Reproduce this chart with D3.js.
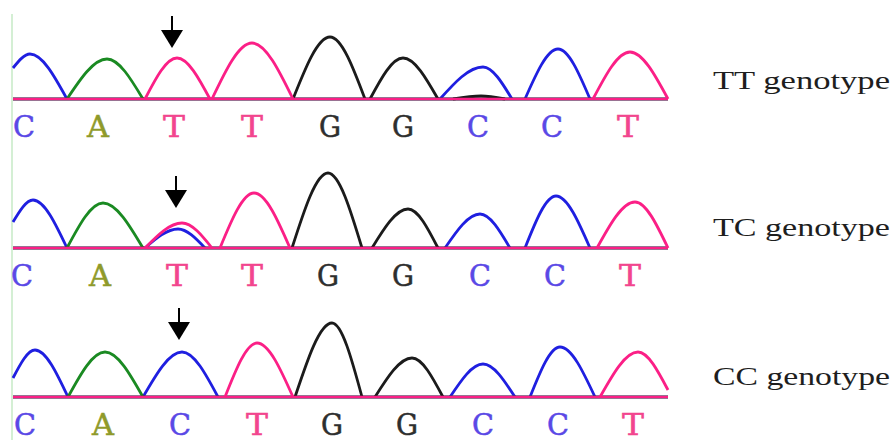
<!DOCTYPE html>
<html lang="en">
<head>
<meta charset="UTF-8">
<title>Sequencing chromatograms by genotype</title>
<script src="https://d3js.org/d3.v7.min.js"></script>
<style>
  body { margin: 0; background: #fff; }
  svg { display: block; }
</style>
</head>
<body>
<svg id="chart" width="896" height="440"></svg>
<script>
// genotype panels
const genotypes = ["TT genotype", "TC genotype", "CC genotype"];

// base calls per panel and where they sit (scan position)
const calls = [
  ["C", "A", "T", "T", "G", "G", "C", "C", "T"],
  ["C", "A", "T", "T", "G", "G", "C", "C", "T"],
  ["C", "A", "C", "T", "G", "G", "C", "C", "T"]
];
const callScan = [
  [11, 85, 161, 239, 317, 390, 465, 539, 615],
  [9, 87, 164, 239, 315, 390, 467, 542, 617],
  [12, 90, 167, 244, 319, 394, 470, 545, 620]
];

// peaks: [base, start scan, apex scan, end scan, height, start height, end height]
const peaksTT = [
  ["C", 0, 17, 54, 45, 31, 0],
  ["A", 54, 94, 130, 40, 0, 0],
  ["T", 132, 164, 197, 41, 0, 0],
  ["T", 199, 239, 280, 56, 0, 0],
  ["G", 280, 317, 352, 62, 0, 0],
  ["G", 357, 390, 425, 41, 0, 0],
  ["C", 427, 470, 499, 32, 0, 0],
  ["G", 440, 468, 492, 3, 0, 0],
  ["C", 512, 545, 577, 50, 0, 0],
  ["T", 580, 617, 655, 47, 0, 0]
];
const peaksTC = [
  ["C", 0, 20, 54, 48, 26, 0],
  ["A", 54, 90, 130, 45, 0, 0],
  ["C", 132, 165, 192, 19, 0, 0],
  ["T", 132, 169, 199, 25, 0, 0],
  ["T", 207, 241, 277, 55, 0, 0],
  ["G", 279, 315, 349, 75, 0, 0],
  ["G", 359, 395, 425, 39, 0, 0],
  ["C", 432, 467, 497, 34, 0, 0],
  ["C", 512, 543, 577, 52, 0, 0],
  ["T", 584, 622, 655, 46, 0, 0]
];
const peaksCC = [
  ["C", 0, 22, 55, 47, 19, 0],
  ["A", 55, 92, 130, 45, 0, 0],
  ["C", 130, 169, 205, 45, 0, 0],
  ["T", 212, 244, 280, 54, 0, 0],
  ["G", 282, 319, 349, 74, 0, 0],
  ["G", 362, 399, 430, 39, 0, 0],
  ["C", 437, 470, 502, 33, 0, 0],
  ["C", 517, 547, 582, 50, 0, 0],
  ["T", 587, 625, 655, 45, 0, 7]
];
const peaks = [peaksTT, peaksTC, peaksCC];

// arrows over the SNP: scan position and tip height
const arrowScan = [159, 163, 166];
const arrowTip = [51, 40, 57];

const traceColor = { C: "#1f1fe0", A: "#1a8a22", G: "#1b1b1b", T: "#fb1f86" };
const labelColor = { C: "#5a48e6", A: "#8f9a2a", G: "#2e2e2e", T: "#f2458e" };
const drawOrder = ["C", "A", "G", "T"];

const svg = d3.select("#chart");
const baselines = [99, 248, 397];

const x = d3.scaleLinear().domain([0, 655]).range([13, 668]);
const y = d3.scaleLinear().domain([0, 80]).range([0, -80]);

const peakLine = d3.line()
  .x(d => x(d[0]))
  .y(d => y(d[1]))
  .curve(d3.curveMonotoneX);

// thin green margin line on the left
svg.append("line")
  .attr("x1", 12).attr("x2", 12)
  .attr("y1", 14).attr("y2", 440)
  .attr("stroke", "#c6eac6").attr("stroke-width", 1.5);

peaks.forEach((list, i) => {
  const g = svg.append("g").attr("transform", `translate(0,${baselines[i]})`);

  drawOrder.forEach(base => {
    g.append("path")
      .attr("d", peakLine([[0, 0], [655, 0]]))
      .attr("fill", "none")
      .attr("stroke", traceColor[base])
      .attr("stroke-width", 2.6);

    g.selectAll(null)
      .data(list.filter(p => p[0] === base))
      .enter().append("path")
      .attr("d", p => peakLine([[p[1], p[5]], [p[2], p[4]], [p[3], p[6]]]))
      .attr("fill", "none")
      .attr("stroke", traceColor[base])
      .attr("stroke-width", 2.8)
      .attr("stroke-linejoin", "round");
  });

  // base calls under the trace
  g.selectAll("text.call")
    .data(calls[i])
    .enter().append("text")
    .attr("class", "call")
    .attr("x", (d, j) => x(callScan[i][j]))
    .attr("y", 38)
    .attr("text-anchor", "middle")
    .attr("font-family", "DejaVu Serif, serif")
    .attr("font-size", 29)
    .attr("textLength", 22)
    .attr("lengthAdjust", "spacingAndGlyphs")
    .attr("fill", d => labelColor[d])
    .attr("stroke", d => labelColor[d])
    .attr("stroke-width", 0.5)
    .text(d => d);

  // arrow marking the SNP
  const ax = x(arrowScan[i]);
  const tip = y(arrowTip[i]);
  g.append("line")
    .attr("x1", ax).attr("x2", ax)
    .attr("y1", tip - 32).attr("y2", tip - 14)
    .attr("stroke", "#000").attr("stroke-width", 2);
  g.append("path")
    .attr("d", `M${ax - 11},${tip - 18}L${ax + 11},${tip - 18}L${ax},${tip}Z`)
    .attr("fill", "#000");

  // genotype label
  g.append("text")
    .attr("x", 713)
    .attr("y", [-10, -12, -12][i])
    .attr("font-family", "Liberation Serif, serif")
    .attr("font-size", 26)
    .attr("textLength", 177)
    .attr("lengthAdjust", "spacingAndGlyphs")
    .attr("fill", "#1e1e1e")
    .text(genotypes[i]);
});
</script>
</body>
</html>
